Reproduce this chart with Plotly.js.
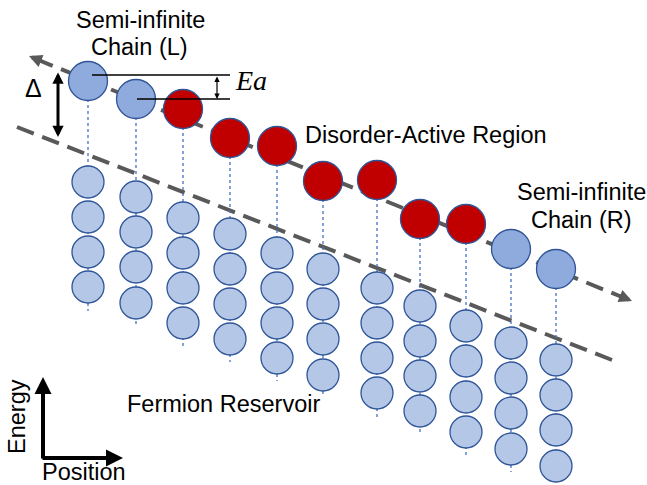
<!DOCTYPE html>
<html><head><meta charset="utf-8">
<script src="https://cdn.plot.ly/plotly-3.0.1.min.js"></script>
<style>html,body{margin:0;padding:0;background:#fff;}#chart{width:647px;height:485px;}</style>
</head><body><div id="chart"></div>
<script>
// Column positions of the sites (left to right)
const siteX = [88,136,183,230,277,323,377,420,466,511,556];
// Energy level of the chain site in each column
const siteY = [81,99,109,138,146,181,180,219,224,249,269];
// L = left semi-infinite chain, D = disorder-active region, R = right semi-infinite chain
const siteRole = ['L','L','D','D','D','D','D','D','D','R','R'];
// Fermion reservoir levels below each site (four per column)
const reservoir1 = [182,197,218,234,253,269,288,306,326,343,360];
const reservoir2 = [217,232,253,269,288,304,323,341,361,378,395];
const reservoir3 = [252,267,288,304,323,339,358,376,397,413,430];
const reservoir4 = [287,303,323,339,358,375,393,411,432,449,466];
// Where each dotted reservoir chain ends
const chainEnd = [311,326,346,362,381,397,417,435,455,472,485];

const roleColor = {L:'#8FAADC', D:'#C00000', R:'#8FAADC'};
const edge = '#2F5597';
const FONT = 'Liberation Sans, Arial, Helvetica, sans-serif';

// dotted vertical chains
const dx = [], dy = [];
siteX.forEach((x,i)=>{ dx.push(x,x,null); dy.push(siteY[i],chainEnd[i],null); });
const traces = [];
traces.push({x:dx,y:dy,mode:'lines',line:{color:'#4472C4',width:1.3,dash:'dot'},hoverinfo:'skip',showlegend:false});

// reservoir sites
const rx = [], ry = [];
[reservoir1,reservoir2,reservoir3,reservoir4].forEach(arr=>arr.forEach((y,i)=>{rx.push(siteX[i]); ry.push(y);}));
traces.push({x:rx,y:ry,mode:'markers',marker:{size:32,color:'#B4C7E7',line:{color:edge,width:1.3}},hoverinfo:'skip',showlegend:false});

// chain sites
traces.push({x:siteX,y:siteY,mode:'markers',marker:{size:39,color:siteRole.map(r=>roleColor[r]),line:{color:edge,width:1.3}},hoverinfo:'skip',showlegend:false});

const shapes = [
  {type:'line',xref:'x',yref:'y',x0:36,y0:59,x1:622,y1:297,layer:'below',line:{color:'#595959',width:4,dash:'18px,9px'}},
  {type:'line',xref:'x',yref:'y',x0:17,y0:127,x1:612,y1:360,layer:'below',line:{color:'#595959',width:4,dash:'18px,9px'}},
  {type:'line',xref:'x',yref:'y',x0:92,y0:75,x1:230,y1:75,layer:'above',line:{color:'#000',width:1.5}},
  {type:'line',xref:'x',yref:'y',x0:137,y0:99,x1:230,y1:99,layer:'above',line:{color:'#000',width:1.5}}
];

function txt(t,x,y,size,extra){
  return Object.assign({text:t,x:x,y:y,xref:'x',yref:'y',showarrow:false,xanchor:'center',yanchor:'middle',
    font:{family:FONT,size:size,color:'#000'}},extra||{});
}
function arrow(x,y,ax,ay,opts){
  return Object.assign({text:'',x:x,y:y,ax:ax,ay:ay,xref:'x',yref:'y',axref:'x',ayref:'y',showarrow:true,
    arrowhead:2,arrowsize:1,arrowwidth:2,arrowcolor:'#000',standoff:0,startstandoff:0},opts);
}

const annotations = [
  txt('Semi-infinite',140,20,23.5),
  txt('Chain (L)',139,47,23.5),
  txt('Disorder-Active Region',426,135,23.5),
  txt('Semi-infinite',581,192,23.5),
  txt('Chain (R)',581,220,23.5),
  txt('Fermion Reservoir',223,404,23.5),
  txt('Δ',33,88,25),
  txt('Ea',251,80,28,{font:{family:'Liberation Serif, Times New Roman, serif',size:28,color:'#000',style:'italic'}}),
  txt('Energy',17,417,23.5,{textangle:-90}),
  txt('Position',84,472,23.5),
  // dashed energy axis arrowheads
  arrow(29,56,43,61.7,{arrowcolor:'#595959',arrowwidth:4,arrowsize:0.65}),
  arrow(632,301,618,295.3,{arrowcolor:'#595959',arrowwidth:4,arrowsize:0.65}),
  // Delta double arrow
  arrow(58,137,58,71,{arrowwidth:3,arrowsize:0.75,arrowside:'end+start'}),
  // Ea double arrow
  arrow(217,99,217,75,{arrowwidth:1.2,arrowsize:0.9,arrowside:'end+start'}),
  // Energy / Position axes
  arrow(43,377,43,460,{arrowwidth:4,arrowsize:0.85}),
  arrow(123,458,41,458,{arrowwidth:4,arrowsize:0.85})
];

const layout = {
  width:647,height:485,autosize:false,
  margin:{l:0,r:0,t:0,b:0,pad:0},
  paper_bgcolor:'#fff',plot_bgcolor:'#fff',
  xaxis:{range:[0,647],visible:false,fixedrange:true},
  yaxis:{range:[485,0],visible:false,fixedrange:true},
  shapes:shapes,annotations:annotations,showlegend:false
};
Plotly.newPlot('chart',traces,layout,{displayModeBar:false,staticPlot:true});
</script></body></html>
